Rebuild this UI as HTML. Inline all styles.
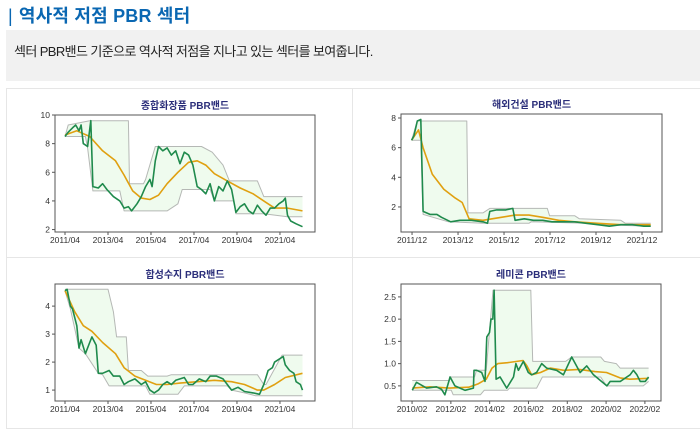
<!DOCTYPE html>
<html><head><meta charset="utf-8">
<style>
body{margin:0;width:700px;height:423px;overflow:hidden;background:#fff;font-family:"Liberation Sans","Noto Sans CJK KR",sans-serif;position:relative}
#title{position:absolute;left:8px;top:2px;font-size:18px;font-weight:bold;color:#0a67b2;white-space:nowrap;letter-spacing:0.2px}
#desc{position:absolute;left:6px;top:30px;width:700px;height:51px;background:#f1f1f1}
#desc span{position:absolute;left:8px;top:11px;font-size:13px;letter-spacing:-0.6px;color:#222;white-space:nowrap}
.card{position:absolute;border:1px solid #e6e6e6;background:#fff}
svg{position:absolute;left:0;top:0}
</style></head><body>
<div id="title"><span style="font-weight:normal;margin-right:6px">|</span>역사적 저점 PBR 섹터</div>
<div id="desc"><span>섹터 PBR밴드 기준으로 역사적 저점을 지나고 있는 섹터를 보여줍니다.</span></div>
<div class="card" style="left:6px;top:88px;width:345px;height:168px"></div>
<div class="card" style="left:352px;top:88px;width:350px;height:168px"></div>
<div class="card" style="left:6px;top:257px;width:345px;height:170px"></div>
<div class="card" style="left:352px;top:257px;width:350px;height:170px"></div>
<svg id="svg" width="700" height="423"></svg>
<script>
// ---- Chart 1: 종합화장품
const c1PbrX=[2011.25,2011.4,2011.6,2011.75,2011.9,2012.0,2012.1,2012.3,2012.45,2012.55,2012.8,2013.0,2013.2,2013.5,2013.8,2014.0,2014.2,2014.35,2014.6,2014.8,2015.0,2015.2,2015.3,2015.45,2015.6,2015.8,2016.0,2016.2,2016.4,2016.6,2016.8,2017.0,2017.2,2017.4,2017.6,2017.8,2018.0,2018.2,2018.4,2018.6,2018.8,2019.0,2019.2,2019.4,2019.6,2019.8,2020.0,2020.2,2020.4,2020.6,2020.8,2021.0,2021.2,2021.4,2021.5,2021.6,2021.75,2022.0,2022.3];
const c1Pbr=[8.5,8.8,9.1,9.3,8.9,9.3,8.0,7.8,9.6,5.0,4.9,5.2,4.8,4.3,4.0,3.5,3.6,3.3,3.8,4.3,5.0,5.5,5.0,6.8,7.8,7.5,7.7,7.2,7.5,6.6,7.4,7.2,6.5,5.0,4.8,4.5,5.2,4.0,5.0,4.7,5.4,4.8,3.2,3.6,3.8,3.3,3.1,3.7,3.3,3.0,3.5,3.5,3.8,4.0,4.2,3.0,2.6,2.4,2.2];
const c1AvgX=[2011.25,2011.8,2012.4,2013.0,2013.6,2014.0,2014.4,2014.8,2015.2,2015.6,2016.0,2016.5,2017.0,2017.4,2017.8,2018.2,2018.8,2019.4,2020.0,2020.6,2021.0,2021.6,2022.3];
const c1Avg=[8.6,8.9,8.5,7.5,6.8,5.8,4.7,4.2,4.1,4.4,5.2,6.0,6.7,6.8,6.5,5.9,5.4,4.9,4.5,3.9,3.5,3.5,3.3];
const c1UpX=[2011.25,2011.4,2012.4,2014.2,2014.25,2014.9,2015.0,2015.45,2017.6,2018.1,2018.6,2018.9,2020.2,2020.5,2022.3];
const c1Up=[8.5,9.3,9.6,9.6,5.2,5.2,5.5,7.8,7.8,7.4,6.5,5.4,5.4,4.3,4.3];
const c1LoX=[2011.25,2012.2,2012.3,2012.55,2013.8,2014.0,2016.0,2016.5,2016.7,2018.0,2018.2,2019.1,2019.2,2020.5,2021.6,2022.3];
const c1Lo=[8.5,8.5,7.7,4.7,4.7,3.3,3.3,3.8,4.8,4.8,4.0,4.0,3.1,3.1,2.9,2.9];
const c1YTicks=[2,4,6,8,10];
const c1XTicks=["2011/04","2013/04","2015/04","2017/04","2019/04","2021/04"];
const c1XTickYears=[2011.25,2013.25,2015.25,2017.25,2019.25,2021.25];

// ---- Chart 2: 해외건설
const c2PbrX=[2011.9,2012.0,2012.15,2012.3,2012.4,2012.7,2013.0,2013.2,2013.6,2014.0,2014.5,2015.0,2015.2,2015.3,2015.6,2016.0,2016.3,2016.4,2016.8,2017.2,2017.6,2018.0,2018.5,2019.0,2019.5,2020.0,2020.5,2021.0,2021.5,2022.0,2022.3];
const c2Pbr=[6.5,6.8,7.8,7.9,1.7,1.5,1.5,1.3,1.0,1.1,1.1,1.0,0.9,1.7,1.8,1.8,1.9,1.1,1.2,1.1,1.1,1.0,1.0,1.0,0.9,0.8,0.7,0.8,0.8,0.7,0.7];
const c2AvgX=[2011.9,2012.2,2012.4,2012.8,2013.3,2013.8,2014.1,2014.4,2015.0,2015.8,2016.4,2017.0,2017.6,2018.3,2019.0,2020.0,2021.0,2022.3];
const c2Avg=[6.5,7.2,6.0,4.2,3.2,2.6,2.3,1.2,1.1,1.3,1.45,1.45,1.3,1.1,1.0,0.9,0.8,0.8];
const c2UpX=[2011.9,2012.15,2014.3,2014.35,2015.0,2015.3,2017.8,2017.9,2019.0,2019.2,2021.0,2021.2,2022.3];
const c2Up=[6.5,7.8,7.8,1.6,1.6,1.9,1.9,1.4,1.4,1.2,1.1,0.9,0.9];
const c2LoX=[2011.9,2012.3,2012.4,2013.5,2015.0,2017.0,2017.1,2019.5,2020.0,2022.3];
const c2Lo=[6.5,6.5,1.5,1.0,0.9,0.9,1.0,0.9,0.8,0.7];
const c2YTicks=[2,4,6,8];
const c2XTicks=["2011/12","2013/12","2015/12","2017/12","2019/12","2021/12"];
const c2XTickYears=[2011.92,2013.92,2015.92,2017.92,2019.92,2021.92];

// ---- Chart 3: 합성수지
const c3PbrX=[2011.25,2011.35,2011.5,2011.6,2011.8,2011.9,2012.0,2012.2,2012.4,2012.5,2012.7,2012.8,2013.0,2013.3,2013.5,2013.8,2014.0,2014.2,2014.5,2014.8,2015.0,2015.2,2015.4,2015.6,2015.8,2016.0,2016.2,2016.4,2016.8,2017.0,2017.2,2017.5,2017.8,2018.0,2018.3,2018.6,2018.8,2019.0,2019.3,2019.6,2020.0,2020.3,2020.5,2020.7,2020.9,2021.0,2021.2,2021.4,2021.5,2021.7,2021.9,2022.0,2022.2,2022.3];
const c3Pbr=[4.55,4.6,4.0,3.9,3.3,2.5,2.8,2.3,2.7,2.9,2.6,1.6,1.6,1.7,1.5,1.5,1.2,1.3,1.4,1.2,1.3,1.0,0.9,1.0,1.2,1.3,1.2,1.35,1.45,1.2,1.2,1.4,1.3,1.5,1.5,1.4,1.2,1.0,1.1,0.95,0.9,0.85,1.2,1.7,1.8,2.0,2.1,2.2,1.9,1.7,1.6,1.3,1.2,1.0];
const c3AvgX=[2011.25,2011.7,2012.1,2012.5,2013.0,2013.6,2014.0,2014.5,2015.0,2015.5,2016.0,2016.6,2017.4,2018.2,2019.0,2019.6,2020.2,2020.5,2021.0,2021.5,2022.3];
const c3Avg=[4.55,3.8,3.3,3.1,2.7,2.3,1.8,1.5,1.35,1.2,1.2,1.25,1.3,1.35,1.3,1.2,1.0,1.0,1.2,1.45,1.6];
const c3UpX=[2011.25,2013.25,2013.5,2013.65,2014.1,2014.2,2014.8,2015.1,2016.0,2016.2,2020.2,2020.5,2020.6,2021.35,2022.3];
const c3Up=[4.6,4.6,3.8,2.9,2.9,1.7,1.7,1.5,1.5,1.55,1.55,1.2,1.2,2.25,2.25];
const c3LoX=[2011.25,2011.5,2011.9,2012.2,2012.8,2013.0,2013.3,2015.0,2015.2,2016.5,2016.8,2018.8,2019.0,2019.6,2020.1,2022.3];
const c3Lo=[4.55,3.9,2.5,2.3,1.6,1.55,1.15,1.15,0.85,0.85,1.15,1.15,1.0,0.9,0.8,0.8];
const c3YTicks=[1,2,3,4];
const c3XTicks=["2011/04","2013/04","2015/04","2017/04","2019/04","2021/04"];
const c3XTickYears=[2011.25,2013.25,2015.25,2017.25,2019.25,2021.25];

// ---- Chart 4: 레미콘
const c4PbrX=[2010.09,2010.31,2010.83,2011.34,2011.6,2011.77,2012.04,2012.29,2012.55,2012.81,2013.24,2013.27,2013.41,2013.67,2013.84,2013.93,2014.07,2014.15,2014.24,2014.31,2014.41,2014.62,2014.96,2015.31,2015.43,2015.56,2015.82,2016.07,2016.24,2016.5,2016.76,2017.02,2017.53,2017.88,2018.31,2018.74,2019.08,2019.43,2020.12,2020.29,2020.81,2021.32,2021.49,2021.67,2021.84,2022.1,2022.27];
const c4Pbr=[0.4,0.58,0.45,0.48,0.42,0.3,0.7,0.5,0.45,0.4,0.45,0.85,0.85,0.8,0.6,1.6,1.7,2.0,2.0,2.65,0.65,0.7,0.45,0.7,1.0,0.85,1.05,0.8,0.75,0.8,1.0,0.9,0.85,0.75,1.15,0.8,0.95,0.75,0.5,0.6,0.6,0.75,0.85,0.75,0.6,0.6,0.7];
const c4AvgX=[2010.09,2011.0,2012.0,2013.0,2013.5,2013.9,2014.2,2014.5,2015.0,2015.8,2016.0,2016.24,2016.7,2017.2,2017.9,2018.7,2019.5,2020.1,2020.8,2021.3,2022.27];
const c4Avg=[0.45,0.48,0.45,0.47,0.55,0.65,0.9,1.0,1.02,1.07,0.95,0.75,0.8,0.9,0.85,0.87,0.82,0.8,0.68,0.65,0.67];
const c4UpX=[2010.09,2012.0,2012.01,2013.3,2013.4,2013.9,2014.25,2016.2,2016.3,2018.0,2018.3,2019.8,2020.0,2020.6,2020.8,2022.27];
const c4Up=[0.62,0.62,0.7,0.7,0.85,0.85,2.65,2.65,1.05,1.05,1.15,1.15,1.05,1.0,0.9,0.9];
const c4LoX=[2010.09,2012.1,2012.2,2013.6,2013.8,2015.0,2015.1,2016.5,2016.8,2019.8,2020.1,2022.0,2022.27];
const c4Lo=[0.4,0.4,0.3,0.3,0.4,0.4,0.45,0.45,0.7,0.7,0.5,0.5,0.6];
const c4YTicks=[0.5,1.0,1.5,2.0,2.5];
const c4XTicks=["2010/02","2012/02","2014/02","2016/02","2018/02","2020/02","2022/02"];
const c4XTickYears=[2010.08,2012.08,2014.08,2016.08,2018.08,2020.08,2022.08];

const NS="http://www.w3.org/2000/svg";
const svg=document.getElementById('svg');
function mk(tag,attrs,parent){const e=document.createElementNS(NS,tag);for(const k in attrs)e.setAttribute(k,attrs[k]);(parent||svg).appendChild(e);return e;}
function chart(cfg){
  const {name,title,L,R,T,B,x0,x1,y0,y1}=cfg;
  const g=mk('g',{});
  
  
  const sx=v=>L+(v-x0)/(x1-x0)*(R-L);
  const sy=v=>B-(v-y0)/(y1-y0)*(B-T);
  const t=mk('text',{x:(L+R)/2,y:T-6,'text-anchor':'middle','font-size':10,'font-weight':'bold',fill:'#2b2e7a','font-family':'"Liberation Sans","Noto Sans CJK KR",sans-serif'},g);
  t.textContent=title;
  
  
  let d='';
  cfg.upX.forEach((x,i)=>{d+=(i?'L':'M')+sx(x).toFixed(1)+','+sy(cfg.up[i]).toFixed(1);});
  for(let i=cfg.loX.length-1;i>=0;i--)d+='L'+sx(cfg.loX[i]).toFixed(1)+','+sy(cfg.lo[i]).toFixed(1);
  const band=mk('path',{d:d+'Z',fill:'#effbee',stroke:'none'},g);
  
  
  const line=(X,Y,col,w,nm)=>{let p='';X.forEach((x,i)=>{p+=(i?'L':'M')+sx(x).toFixed(1)+','+sy(Y[i]).toFixed(1);});const e=mk('path',{d:p,fill:'none',stroke:col,'stroke-width':w,'stroke-linejoin':'round'},g);return e;};
  line(cfg.upX,cfg.up,'#b5b8b5',1,'band-upper-line');
  line(cfg.loX,cfg.lo,'#b5b8b5',1,'band-lower-line');
  line(cfg.avgX,cfg.avg,'#e0a010',1.6,'pbr-average-line');
  line(cfg.pbrX,cfg.pbr,'#1f8a4c',1.6,'pbr-line');
  const fr=mk('rect',{x:L,y:T,width:R-L,height:B-T,fill:'none',stroke:'#555','stroke-width':1},g);
  
  
  cfg.yTicks.forEach(v=>{
    const y=sy(v);
    mk('line',{x1:L-3,x2:L,y1:y,y2:y,stroke:'#555'},g);
    const tx=mk('text',{x:L-5,y:y+3,'text-anchor':'end','font-size':8.5,fill:'#333'},g);
    tx.textContent=cfg.yFmt?v.toFixed(1):String(v);
    
    
  });
  cfg.xTickYears.forEach((v,i)=>{
    const x=sx(v);
    mk('line',{x1:x,x2:x,y1:B,y2:B+3,stroke:'#555'},g);
    const tx=mk('text',{x:x,y:B+11,'text-anchor':'middle','font-size':8.5,fill:'#333'},g);
    tx.textContent=cfg.xTicks[i];
    
    
  });
}
chart({name:'chart-cosmetics',title:'종합화장품 PBR밴드',L:55,R:315,T:115,B:232,x0:2010.785,x1:2022.88,y0:1.83,y1:10,
 pbrX:c1PbrX,pbr:c1Pbr,avgX:c1AvgX,avg:c1Avg,upX:c1UpX,up:c1Up,loX:c1LoX,lo:c1Lo,yTicks:c1YTicks,xTicks:c1XTicks,xTickYears:c1XTickYears});
chart({name:'chart-overseas-construction',title:'해외건설 PBR밴드',L:401,R:662,T:114,B:232,x0:2011.44,x1:2022.79,y0:0.31,y1:8.27,
 pbrX:c2PbrX,pbr:c2Pbr,avgX:c2AvgX,avg:c2Avg,upX:c2UpX,up:c2Up,loX:c2LoX,lo:c2Lo,yTicks:c2YTicks,xTicks:c2XTicks,xTickYears:c2XTickYears});
chart({name:'chart-synthetic-resin',title:'합성수지 PBR밴드',L:55,R:315,T:284,B:401,x0:2010.785,x1:2022.88,y0:0.61,y1:4.79,
 pbrX:c3PbrX,pbr:c3Pbr,avgX:c3AvgX,avg:c3Avg,upX:c3UpX,up:c3Up,loX:c3LoX,lo:c3Lo,yTicks:c3YTicks,xTicks:c3XTicks,xTickYears:c3XTickYears});
chart({name:'chart-remicon',title:'레미콘 PBR밴드',L:401,R:661,T:284,B:401,x0:2009.51,x1:2022.91,y0:0.16,y1:2.79,yFmt:true,
 pbrX:c4PbrX,pbr:c4Pbr,avgX:c4AvgX,avg:c4Avg,upX:c4UpX,up:c4Up,loX:c4LoX,lo:c4Lo,yTicks:c4YTicks,xTicks:c4XTicks,xTickYears:c4XTickYears});
</script>
</body></html>
